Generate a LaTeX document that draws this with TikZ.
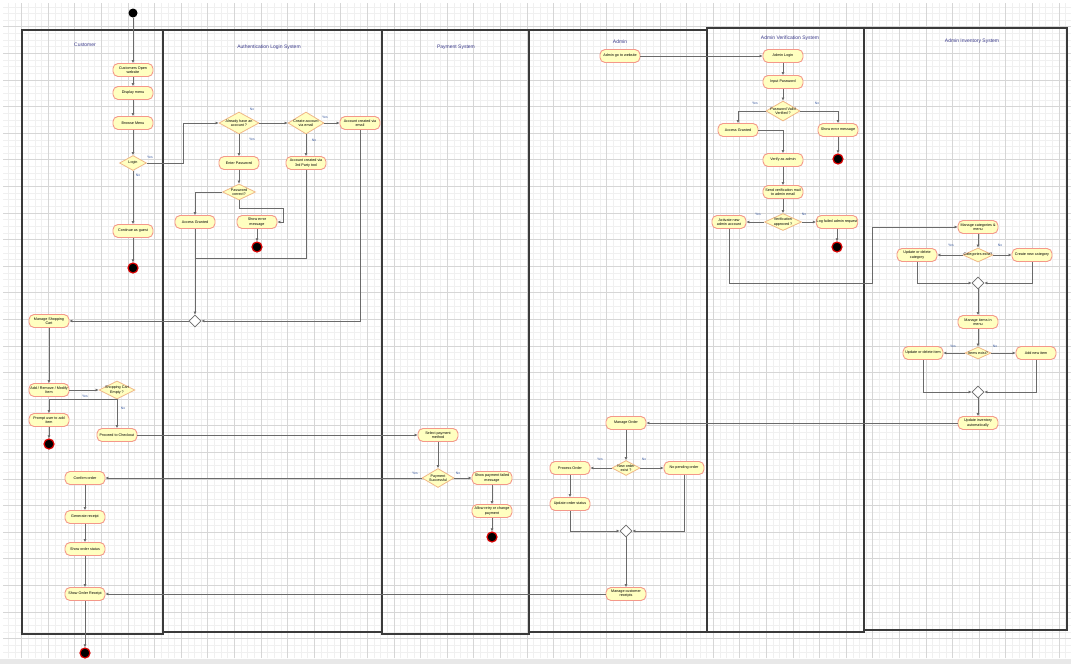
\documentclass[tikz,border=0pt]{standalone}
\usepackage{fontspec}
\setmainfont{Liberation Sans}
\usetikzlibrary{shapes.geometric,arrows.meta}
\definecolor{actfill}{HTML}{FFFFC0}
\definecolor{actdraw}{HTML}{F4988A}
\definecolor{decdraw}{HTML}{F0B888}
\definecolor{lanec}{HTML}{3A3A3A}
\definecolor{connc}{HTML}{6A6A6A}
\definecolor{titlec}{HTML}{3A3A8A}
\definecolor{lblc}{HTML}{3A5AA0}
\definecolor{gmin}{HTML}{F0F0F0}
\definecolor{gmaj}{HTML}{D6D6D6}
\newcommand\ntext{\fontsize{3.7}{4.2}\selectfont}
\newcommand\ltext{\fontsize{3.4}{4}\selectfont}
\newcommand\ttext{\fontsize{5}{6}\selectfont}
\begin{document}
\begin{tikzpicture}[x=1pt,y=-1pt,
  act/.style={rectangle, rounded corners=5pt, draw=actdraw, line width=0.9pt, fill=actfill,
    minimum width=40pt, minimum height=13pt, inner sep=0.5pt, align=center, font=\ntext},
  dec/.style={diamond, draw=decdraw, line width=0.8pt, fill=actfill, inner sep=0pt},
  dtext/.style={font=\ntext, align=center, inner sep=0pt},
  mergen/.style={diamond, draw=connc, fill=white, line width=0.7pt, minimum width=12pt, minimum height=12pt, inner sep=0pt},
  startn/.style={circle, fill=black, minimum size=9pt, inner sep=0pt},
  endn/.style={circle, fill=black, draw=red!85!black, line width=1.2pt, minimum size=10pt, inner sep=0pt},
  conn/.style={draw=connc, line width=0.7pt, -{Latex[length=3pt,width=3pt]}},
  plainline/.style={draw=connc, line width=0.7pt},
  lbl/.style={font=\ltext, text=lblc, inner sep=0pt},
  lane/.style={draw=lanec, line width=1.3pt},
  title/.style={font=\ttext, text=titlec, inner sep=0pt}]
\useasboundingbox (0,0) rectangle (1071,664);
\fill[white] (0,0) rectangle (1071,664);
\fill[gray!18] (0,659) rectangle (1071,664);
% grid
\begin{scope}[xshift=21.4pt]
\draw[gmin, line width=0.3pt, step=6.65pt] (-18.4,3) grid (1050,658);
\draw[gmaj, line width=0.4pt, step=26.6pt] (-18.4,3) grid (1050,658);
\end{scope}
% lanes
\draw[lane] (22,30) rectangle (163,634);
\draw[lane] (163,30) rectangle (382,632);
\draw[lane] (382,30) rectangle (529,634);
\draw[lane] (529,30) rectangle (707,632);
\draw[lane, line width=1.8pt] (707,28) rectangle (864,632);
\draw[lane] (864,28) rectangle (1067,630);
\node[title] (t1) at (85,45) {Customer};
\node[title] (t2) at (269,47) {Authentication Login System};
\node[title] (t3) at (456,47) {Payment System};
\node[title] (t4) at (620,42) {Admin};
\node[title] (t5) at (790,38) {Admin Verification System};
\node[title] (t6) at (972,41) {Admin Inventory System};

% ---------- Customer
\node[startn] (st) at (133,13) {};
\node[act] (c1) at (133,70) {Customers Open\\website};
\node[act] (c2) at (133,93) {Display menu};
\node[act] (c3) at (133,123) {Browse Menu};
\node[dec, minimum width=27pt, minimum height=15pt, label={[dtext]center:Login}] (login) at (133,163) {};
\node[act] (guest) at (133,231) {Continue as guest};
\node[endn] (e1) at (133,268) {};
\node[lbl] (l1) at (150,157) {Yes};
\node[lbl] (l2) at (138,175) {No};

% ---------- Authentication
\node[dec, minimum width=40pt, minimum height=22pt, label={[dtext]center:Already have an\\account ?}] (d1) at (239,123) {};
\node[dec, minimum width=36pt, minimum height=22pt, label={[dtext]center:Create account\\via email}] (d2) at (306,123) {};
\node[act] (acemail) at (360,123) {Account created via\\email};
\node[act] (enterpw) at (239,163) {Enter Password};
\node[act] (ac3rd) at (306,163) {Account created via\\3rd Party tool};
\node[dec, minimum width=33pt, minimum height=16pt, label={[dtext]center:Password\\correct?}] (pwc) at (239,192) {};
\node[act] (accgr) at (195,222) {Access Granted};
\node[act] (sem) at (257,222) {Show error\\message};
\node[endn] (e2) at (257,247) {};
\node[mergen] (m1) at (195,321) {};
\node[lbl] (l3) at (252,109) {No};
\node[lbl] (l4) at (252,139) {Yes};
\node[lbl] (l5) at (325,117) {Yes};
\node[lbl] (l6) at (314,140) {No};

% ---------- Customer middle
\node[act] (mcart) at (49,321) {Manage Shopping\\Cart};
\node[act] (addrm) at (49,390) {Add / Remove / Modify\\Item};
\node[dec, minimum width=36pt, minimum height=18pt, label={[dtext]center:Shopping Cart\\Empty ?}] (scdec) at (117,390) {};
\node[act] (prompt) at (49,420) {Prompt user to add\\item};
\node[endn] (e3) at (49,444) {};
\node[act] (proceed) at (117,435) {Proceed to Checkout};
\node[lbl] (l7) at (85,396) {Yes};
\node[lbl] (l8) at (123,408) {No};

% ---------- Payment
\node[act] (selpay) at (438,435) {Select payment\\method};
\node[dec, minimum width=32pt, minimum height=19pt, label={[dtext]center:Payment\\Successful}] (paydec) at (438,478) {};
\node[act] (spf) at (492,478) {Show payment failed\\message};
\node[act] (allow) at (492,511) {Allow retry or change\\payment};
\node[endn] (e4) at (492,537) {};
\node[lbl] (l9) at (415,473) {Yes};
\node[lbl] (l10) at (458,473) {No};

% ---------- Customer bottom
\node[act] (confirm) at (85,478) {Confirm order};
\node[act] (genrec) at (85,517) {Generate receipt};
\node[act] (showst) at (85,549) {Show order status};
\node[act] (showrec) at (85,594) {Show Order Receipt};
\node[endn] (e5) at (85,653) {};

% ---------- Admin
\node[act] (admgo) at (620,56) {Admin go to website};
\node[act] (morder) at (626,423) {Manage Order};
\node[dec, minimum width=28pt, minimum height=15pt, label={[dtext]center:New order\\exist ?}] (nodec) at (626,468) {};
\node[act] (procord) at (570,468) {Process Order};
\node[act] (nopend) at (684,468) {No pending order};
\node[act] (updstat) at (570,504) {Update order status};
\node[mergen] (m4) at (626,531) {};
\node[act] (mrec) at (626,594) {Manage customer\\receipts};
\node[lbl] (l11) at (600,459) {Yes};
\node[lbl] (l12) at (644,459) {No};

% ---------- Admin Verification
\node[act] (alog) at (783,56) {Admin Login};
\node[act] (inpw) at (783,82) {Input Password};
\node[dec, minimum width=34pt, minimum height=20pt, label={[dtext]center:Password Valid\\Verified ?}] (pvd) at (783,111) {};
\node[act] (accgr2) at (738,130) {Access Granted};
\node[act] (sem2) at (838,130) {Show error message};
\node[endn] (e6) at (838,159) {};
\node[act] (verify) at (783,160) {Verify as admin};
\node[act] (sendv) at (783,192) {Send verification mail\\to admin email};
\node[dec, minimum width=37pt, minimum height=17pt, label={[dtext]center:Verification\\approved ?}] (vapp) at (783,222) {};
\node[act, minimum width=34pt] (activate) at (729,222) {Activate new\\admin account};
\node[act] (logfail) at (837,222) {Log failed admin request};
\node[endn] (e7) at (837,247) {};
\node[lbl] (l13) at (755,103) {Yes};
\node[lbl] (l14) at (817,103) {No};
\node[lbl] (l15) at (758,214) {Yes};
\node[lbl] (l16) at (804,214) {No};

% ---------- Admin Inventory
\node[act] (mcat) at (978,227) {Manage categories \&\\menu};
\node[dec, minimum width=30pt, minimum height=14pt, label={[dtext]center:Categories exist?}] (catdec) at (978,255) {};
\node[act] (updcat) at (917,255) {Update or delete\\category};
\node[act] (crcat) at (1032,255) {Create new category};
\node[mergen] (m2) at (978,283) {};
\node[act] (mitems) at (978,322) {Manage items in\\menu};
\node[dec, minimum width=26pt, minimum height=12pt, label={[dtext]center:Items exist?}] (itdec) at (978,353) {};
\node[act] (upditem) at (923,353) {Update or delete item};
\node[act] (additem) at (1036,353) {Add new item};
\node[mergen] (m3) at (978,392) {};
\node[act] (updinv) at (978,423) {Update inventory\\automatically};
\node[lbl] (l17) at (951,245) {Yes};
\node[lbl] (l18) at (1000,245) {No};
\node[lbl] (l19) at (953,346) {Yes};
\node[lbl] (l20) at (995,346) {No};

% ---------- connectors
\draw[conn] (st) -- (c1);
\draw[conn] (c1) -- (c2);
\draw[conn] (c2) -- (c3);
\draw[conn] (c3) -- (login);
\draw[conn] (login) -- (guest);
\draw[conn] (guest) -- (e1);
\draw[conn] (login.east) -- (183,163) |- (d1.west);
\draw[conn] (d1) -- (d2);
\draw[conn] (d2) -- (acemail);
\draw[conn] (d2) -- (ac3rd);
\draw[conn] (d1) -- (enterpw);
\draw[conn] (enterpw) -- (pwc);
\draw[conn] (pwc.west) -| (accgr.north);
\draw[conn] (pwc.south) -- ++(0,8) -| ([xshift=6pt]sem.east) -- (sem.east);
\draw[conn] (sem) -- (e2);
\draw[conn] (accgr) -- (m1);
\coordinate (j1) at (195,258);
\draw[plainline] (ac3rd.south) |- (j1);
\draw[conn] (acemail.south) |- (m1.east);
\draw[conn] (m1) -- (mcart);
\draw[conn] (mcart) -- (addrm);
\draw[conn] (addrm) -- (scdec);
\draw[conn] (scdec.south) -| (prompt.north);
\draw[conn] (scdec) -- (proceed);
\draw[conn] (prompt) -- (e3);
\draw[conn] (proceed) -- (selpay);
\draw[conn] (selpay) -- (paydec);
\draw[conn] (paydec) -- (confirm);
\draw[conn] (paydec) -- (spf);
\draw[conn] (spf) -- (allow);
\draw[conn] (allow) -- (e4);
\draw[conn] (confirm) -- (genrec);
\draw[conn] (genrec) -- (showst);
\draw[conn] (showst) -- (showrec);
\draw[conn] (showrec) -- (e5);
\draw[conn] (admgo) -- (alog);
\draw[conn] (alog) -- (inpw);
\draw[conn] (inpw) -- (pvd);
\draw[conn] (pvd.west) -| (accgr2.north);
\draw[conn] (pvd.east) -| (sem2.north);
\draw[conn] (sem2) -- (e6);
\draw[conn] (accgr2.east) -| (verify.north);
\draw[conn] (verify) -- (sendv);
\draw[conn] (sendv) -- (vapp);
\draw[conn] (vapp) -- (activate);
\draw[conn] (vapp) -- (logfail);
\draw[conn] (logfail) -- (e7);
\draw[conn] (activate.south) |- (872,283) |- (mcat.west);
\draw[conn] (mcat) -- (catdec);
\draw[conn] (catdec) -- (updcat);
\draw[conn] (catdec) -- (crcat);
\draw[conn] (updcat.south) |- (m2.west);
\draw[conn] (crcat.south) |- (m2.east);
\draw[conn] (m2) -- (mitems);
\draw[conn] (mitems) -- (itdec);
\draw[conn] (itdec) -- (upditem);
\draw[conn] (itdec) -- (additem);
\draw[conn] (upditem.south) |- (m3.west);
\draw[conn] (additem.south) |- (m3.east);
\draw[conn] (m3) -- (updinv);
\draw[conn] (updinv) -- (morder);
\draw[conn] (morder) -- (nodec);
\draw[conn] (nodec) -- (procord);
\draw[conn] (nodec) -- (nopend);
\draw[conn] (procord) -- (updstat);
\draw[conn] (updstat.south) |- (m4.west);
\draw[conn] (nopend.south) |- (m4.east);
\draw[conn] (m4) -- (mrec);
\draw[conn] (mrec) -- (showrec);
\end{tikzpicture}
\end{document}
